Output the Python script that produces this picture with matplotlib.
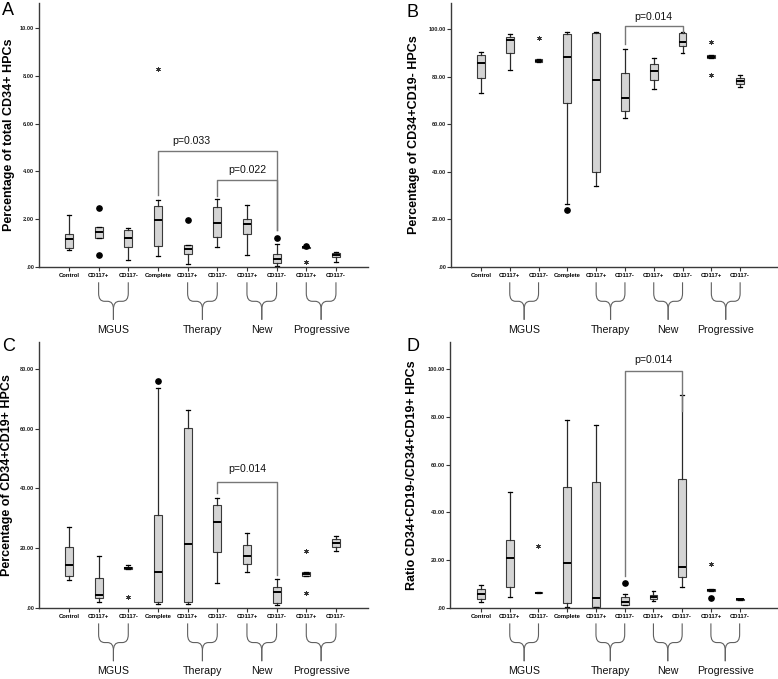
import matplotlib
matplotlib.use('Agg')
import matplotlib.pyplot as plt
import numpy as np
from matplotlib.path import Path
from matplotlib.patches import PathPatch
from matplotlib.transforms import blended_transform_factory

plt.rcParams['font.family'] = ['Liberation Sans', 'DejaVu Sans']

labels = ['Control', 'CD117+', 'CD117-', 'Complete', 'CD117+', 'CD117-',
          'CD117+', 'CD117-', 'CD117+', 'CD117-']
groups = [('MGUS', 1, 2), ('Therapy', 4, 5), ('New', 6, 7), ('Progressive', 8, 9)]

# panel A
a_lo = [0.73, 1.21, 0.28, 0.45, 0.13, 0.85, 0.49, 0.03, 0.80, 0.21]
a_q1 = [0.80, 1.21, 0.85, 0.89, 0.56, 1.27, 1.38, 0.17, 0.80, 0.42]
a_med = [1.19, 1.46, 1.20, 1.98, 0.77, 1.84, 1.81, 0.35, 0.82, 0.50]
a_q3 = [1.38, 1.66, 1.56, 2.57, 0.91, 2.50, 2.02, 0.56, 0.84, 0.59]
a_hi = [2.16, 1.66, 1.62, 2.79, 0.91, 2.83, 2.61, 0.95, 0.84, 0.61]
a_circ = [[], [2.45, 0.49], [], [], [1.98], [], [], [1.21], [0.86], []]
a_star = [[], [], [], [8.28], [], [], [], [], [0.21], []]

# panel B
b_lo = [72.9, 82.6, 86.1, 26.4, 34.0, 62.7, 74.9, 90.1, 87.7, 75.5]
b_q1 = [79.2, 89.8, 86.1, 68.9, 39.7, 65.5, 78.6, 92.9, 87.7, 76.9]
b_med = [85.8, 95.4, 86.7, 88.1, 78.7, 70.9, 82.5, 94.7, 88.4, 78.2]
b_q3 = [89.1, 96.5, 87.2, 98.0, 98.2, 81.4, 85.3, 98.2, 89.1, 79.3]
b_hi = [90.5, 97.9, 87.2, 98.6, 98.6, 91.5, 87.7, 98.9, 89.1, 80.7]
b_circ = [[], [], [], [24.1], [], [], [], [], [], []]
b_star = [[], [], [96.4], [], [], [], [], [], [94.7, 80.7], []]

# panel C
c_lo = [9.5, 2.0, 12.9, 1.3, 1.3, 8.5, 12.2, 1.1, 10.8, 19.0]
c_q1 = [10.8, 3.5, 12.9, 2.1, 1.9, 18.6, 14.6, 1.6, 10.8, 20.4]
c_med = [14.3, 4.5, 13.3, 12.0, 21.4, 28.8, 17.5, 5.2, 11.2, 21.9]
c_q3 = [20.5, 10.1, 13.6, 31.2, 60.1, 34.4, 21.0, 6.9, 11.9, 23.0]
c_hi = [27.1, 17.4, 14.3, 73.6, 66.1, 36.9, 25.0, 9.8, 11.9, 24.1]
c_circ = [[], [], [], [75.9], [], [], [], [], [], []]
c_star = [[], [], [3.8], [], [], [], [], [], [19.0, 4.9], []]

# panel D
d_lo = [2.6, 4.6, 6.1, 0.3, 0.3, 1.2, 2.8, 8.8, 7.3, 3.3]
d_q1 = [3.8, 8.6, 6.1, 2.2, 0.6, 1.4, 3.8, 12.8, 7.3, 3.3]
d_med = [6.0, 21.1, 6.4, 18.7, 4.3, 2.6, 4.6, 17.3, 7.7, 3.6]
d_q3 = [8.1, 28.3, 6.7, 50.8, 52.9, 4.5, 5.6, 54.1, 8.1, 3.8]
d_hi = [9.6, 48.7, 6.7, 78.8, 76.4, 6.0, 7.3, 89.1, 8.1, 3.8]
d_circ = [[], [], [], [], [], [10.6], [], [], [4.0], []]
d_star = [[], [], [26.1], [], [], [], [], [], [18.3], []]

# brackets: (x_left, y_left_end, x_right, y_right_end, y_top)
a_brackets = [(3, 3.03, 7, 1.56, 4.84), (5, 2.96, 7, 1.56, 3.65)]
a_ptext = [('p=0.033', 4.14, 5.26), ('p=0.022', 6.0, 4.07)]
b_brackets = [(5, 93.6, 7, 98.9, 101.3)]
b_ptext = [('p=0.014', 6.0, 105.0)]
c_brackets = [(5, 38.4, 7, 11.0, 42.3)]
c_ptext = [('p=0.014', 6.0, 46.4)]
d_brackets = [(5, 13.4, 7, 82.4, 99.3)]
d_ptext = [('p=0.014', 6.0, 103.8)]


def fmt(v):
    s = '%.2f' % v
    return s[1:] if s.startswith('0') else s


def brace(ax, a, b, name):
    tr = blended_transform_factory(ax.transData, ax.transAxes)
    m = (a + b) / 2.0
    top, h, end, r, dx = -0.058, -0.130, -0.200, 0.030, 0.2
    for x0, sgn in ((a, 1), (b, -1)):
        verts = [(x0, top), (x0, h + r), (x0, h), (x0 + sgn * dx, h),
                 (m - sgn * dx, h), (m, h), (m, h - r), (m, end)]
        codes = [Path.MOVETO, Path.LINETO, Path.CURVE3, Path.CURVE3,
                 Path.LINETO, Path.CURVE3, Path.CURVE3, Path.LINETO]
        ax.add_patch(PathPatch(Path(verts, codes), fill=False, lw=0.8,
                               edgecolor='#606060', transform=tr, clip_on=False))
    ax.text(m, end - 0.018, name, transform=tr, ha='center', va='top',
            fontsize=7.7, color='#111111')


def panel(ax, lo, q1, med, q3, hi, circ, star, ymax, yticks, xlim, ylabel,
          brackets, ptext, lab_x):
    x = np.arange(len(labels))
    stats = []
    for i in range(len(labels)):
        stats.append(dict(whislo=lo[i], q1=q1[i], med=med[i], q3=q3[i],
                          whishi=hi[i], fliers=circ[i]))
    ax.bxp(stats, positions=x, widths=0.27, capwidths=0.13, patch_artist=True,
           boxprops=dict(facecolor='#d4d4d4', edgecolor='#3a3a3a', lw=0.8),
           medianprops=dict(color='black', lw=1.4),
           whiskerprops=dict(color='#2a2a2a', lw=0.9),
           capprops=dict(color='black', lw=0.9),
           flierprops=dict(marker='o', markerfacecolor='black',
                           markeredgecolor='black', markersize=3.8))
    for i, s in enumerate(star):
        if s:
            ax.plot([x[i]] * len(s), s, ls='none', marker=(6, 2, 0),
                    markersize=3.3, mew=0.6, color='#333333')
    for xl, yl, xr, yr, yt in brackets:
        ax.plot([xl, xl, xr, xr], [yl, yt, yt, yr], color='#777777', lw=1.0)
    for t, tx, ty in ptext:
        ax.text(tx, ty, t, ha='center', va='center', fontsize=7.6,
                color='#111111')
    ax.set_xlim(*xlim)
    ax.set_ylim(0, ymax)
    ax.set_yticks(yticks)
    ax.set_yticklabels([fmt(v) for v in yticks], fontweight='bold')
    ax.set_xticks(x)
    ax.set_xticklabels(labels, fontsize=4.2, fontweight='bold')
    ax.tick_params(axis='y', labelsize=4.1, length=3, width=0.8, pad=0.5,
                   color='#333333', labelcolor='#222222')
    ax.tick_params(axis='x', length=3, width=0.8, pad=1.5, color='#333333')
    for sp in ('top', 'right'):
        ax.spines[sp].set_visible(False)
    for sp in ('left', 'bottom'):
        ax.spines[sp].set_color('#3a3a3a')
        ax.spines[sp].set_linewidth(1.0)
    ax.set_ylabel(ylabel, fontsize=9, fontweight='bold')
    ax.yaxis.set_label_coords(lab_x, 0.5)
    for name, a, b in groups:
        brace(ax, a, b, name)


fig = plt.figure(figsize=(7.78, 6.79), dpi=100)
axA = fig.add_axes([0.0501, 0.6068, 0.4229, 0.3888])
axB = fig.add_axes([0.5797, 0.6068, 0.4190, 0.3888])
axC = fig.add_axes([0.0501, 0.1046, 0.4229, 0.3918])
axD = fig.add_axes([0.5784, 0.1046, 0.4203, 0.3918])

panel(axA, a_lo, a_q1, a_med, a_q3, a_hi, a_circ, a_star, 11.05,
      [0, 2, 4, 6, 8, 10], (-1.01, 10.08),
      'Percentage of total CD34+ HPCs', a_brackets, a_ptext, -0.073)
panel(axB, b_lo, b_q1, b_med, b_q3, b_hi, b_circ, b_star, 110.9,
      [0, 20, 40, 60, 80, 100], (-1.04, 10.28),
      'Percentage of CD34+CD19- HPCs', b_brackets, b_ptext, -0.095)
panel(axC, c_lo, c_q1, c_med, c_q3, c_hi, c_circ, c_star, 89.0,
      [0, 20, 40, 60, 80], (-1.01, 10.08),
      'Percentage of CD34+CD19+ HPCs', c_brackets, c_ptext, -0.079)
panel(axD, d_lo, d_q1, d_med, d_q3, d_hi, d_circ, d_star, 111.3,
      [0, 20, 40, 60, 80, 100], (-1.08, 10.3),
      'Ratio CD34+CD19-/CD34+CD19+ HPCs', d_brackets, d_ptext, -0.098)

for t, px, py in [('A', 2, 2), ('B', 407, 4), ('C', 2, 338), ('D', 407, 338)]:
    fig.text(px / 778.0, 1 - py / 679.0, t, ha='left', va='top', fontsize=13)

fig.savefig('out.png', dpi=100)
